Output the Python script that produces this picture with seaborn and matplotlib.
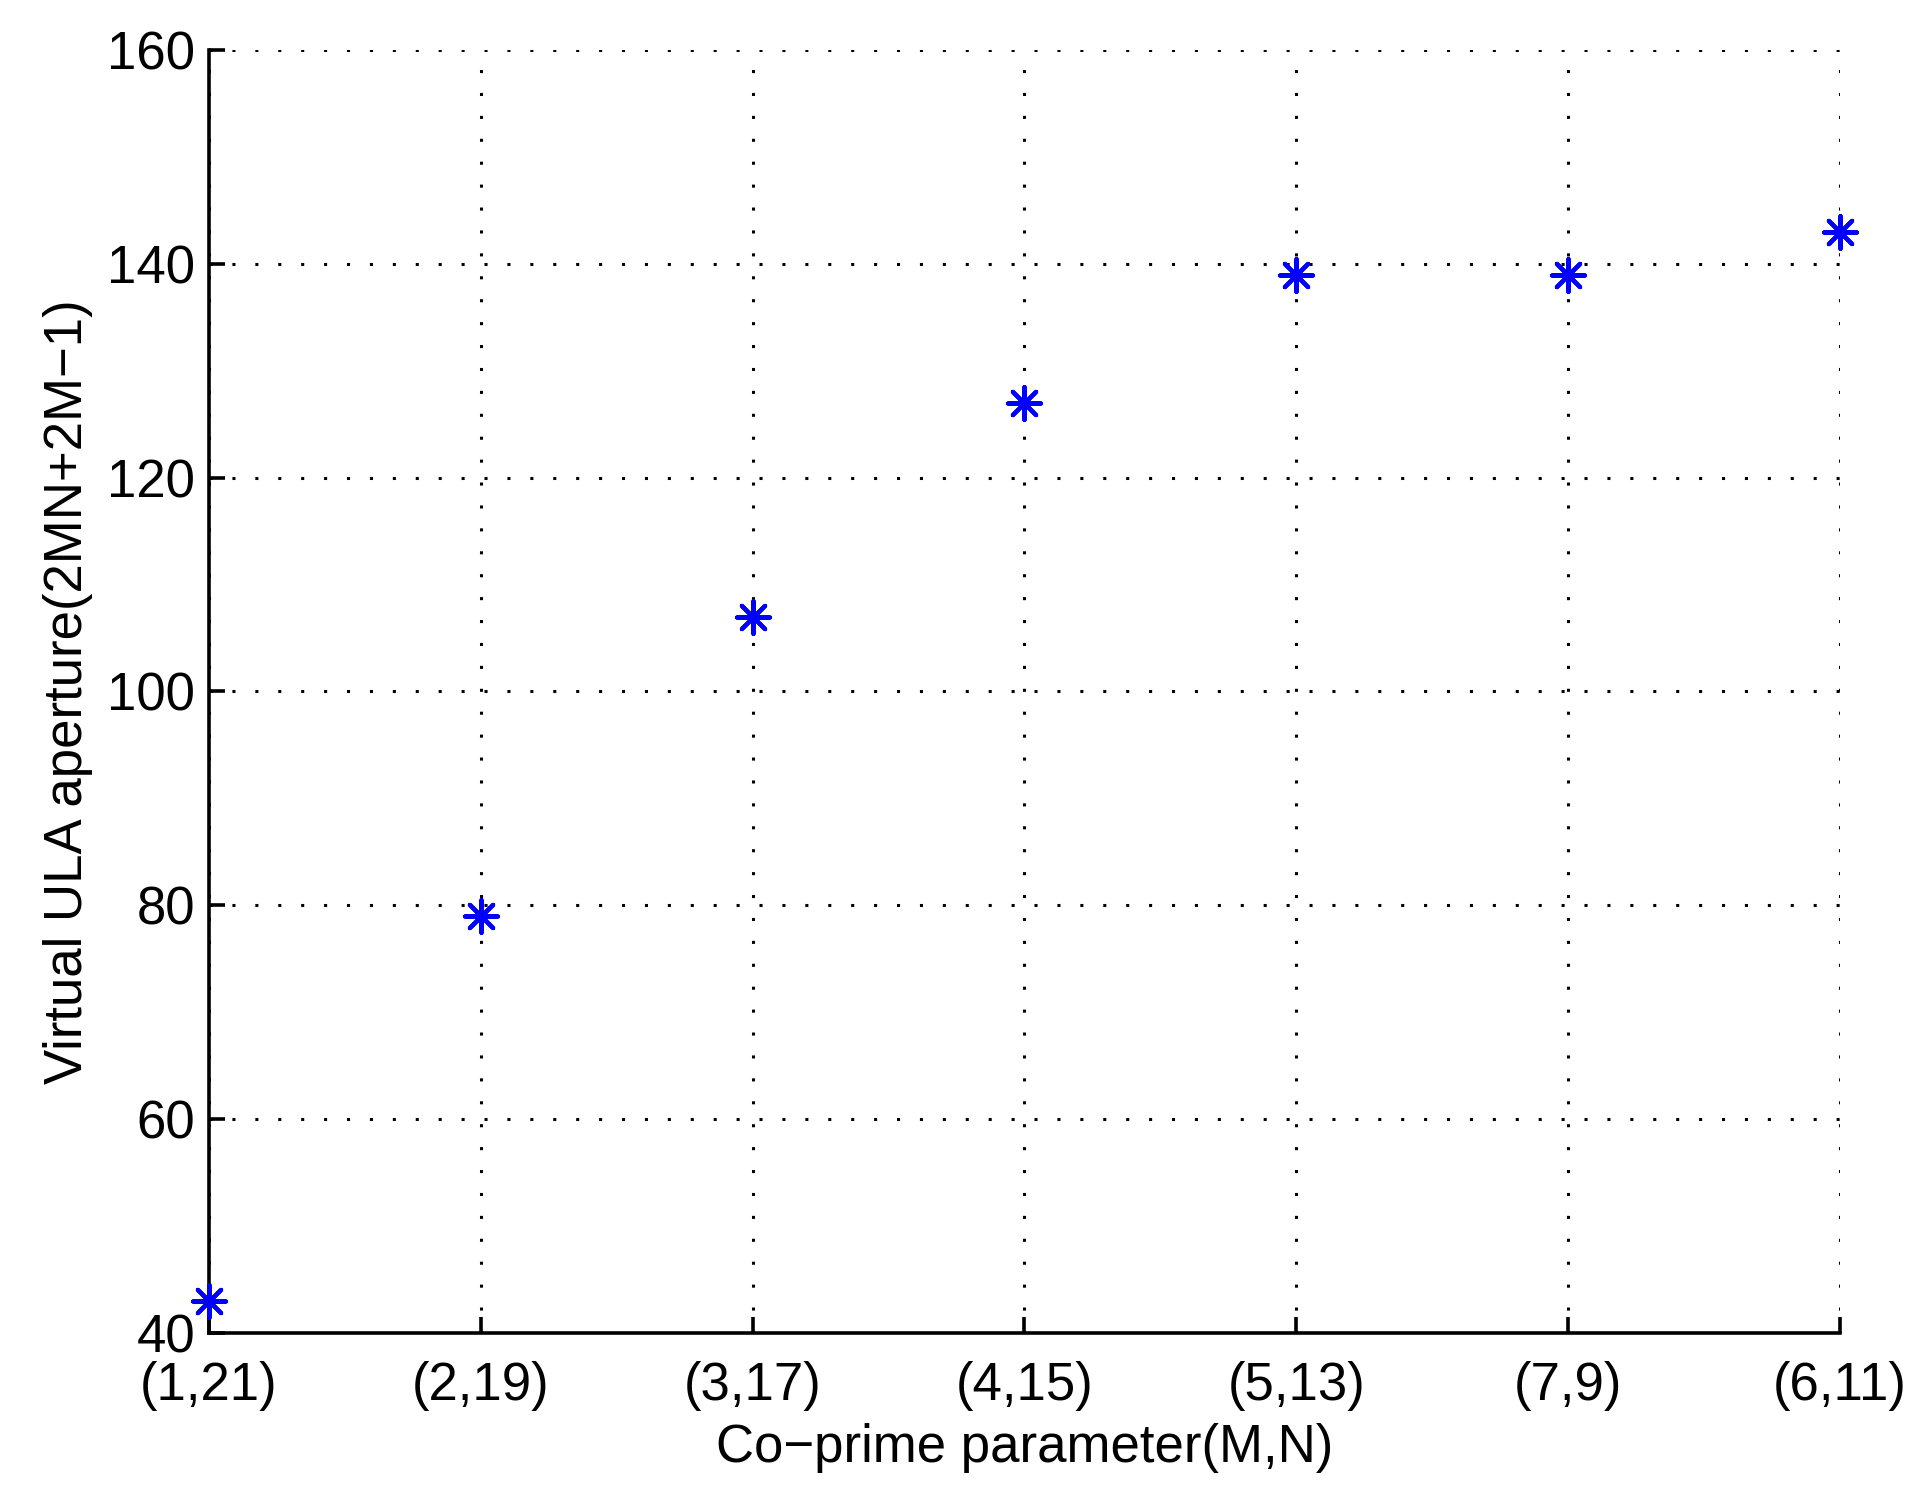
import pandas as pd
import seaborn as sns
import matplotlib
matplotlib.use('Agg')
import matplotlib.pyplot as plt

# Data
pairs = ['(1,21)', '(2,19)', '(3,17)', '(4,15)', '(5,13)', '(7,9)', '(6,11)']
aperture = [43, 79, 107, 127, 139, 139, 143]
y_ticks = [40, 60, 80, 100, 120, 140, 160]

df = pd.DataFrame({'pair': pairs, 'aperture': aperture})
df['pos'] = range(len(pairs))

sns.set_style('white')
plt.rcParams['font.family'] = ['Liberation Sans', 'DejaVu Sans']
plt.rcParams['text.color'] = 'black'
plt.rcParams['axes.labelcolor'] = 'black'

fig = plt.figure(figsize=(19.25, 14.89), dpi=100)
ax = fig.add_axes([0.1086, 0.1048, 0.9558 - 0.1086, 0.9664 - 0.1048])

sns.scatterplot(data=df, x='pos', y='aperture', ax=ax, marker=(8, 2, 0),
                s=560, color='blue', edgecolor='blue', linewidth=3.0,
                clip_on=False, zorder=5)

ax.set_xlim(0, len(pairs) - 1)
ax.set_ylim(40, 160)
ax.set_xticks(df['pos'])
ax.set_xticklabels(pairs)
ax.set_yticks(y_ticks)

ax.grid(True, color='black', linestyle=(0, (1, 6.5)), linewidth=2.2)
ax.set_axisbelow(True)
for s in ['top', 'right']:
    ax.spines[s].set_visible(False)
for s in ['left', 'bottom']:
    ax.spines[s].set_linewidth(2.6)
    ax.spines[s].set_color('black')

ax.tick_params(direction='in', length=11.5, width=2.6, labelsize=38,
               colors='black', bottom=True, left=True)
ax.tick_params(axis='x', pad=20)
ax.tick_params(axis='y', pad=10)
ax.set_xlabel('Co\u2212prime parameter(M,N)', fontsize=38, labelpad=9)
ax.set_ylabel('Virtual ULA aperture(2MN+2M\u22121)', fontsize=38, labelpad=10)

fig.savefig('out.png', dpi=100, facecolor='white')
